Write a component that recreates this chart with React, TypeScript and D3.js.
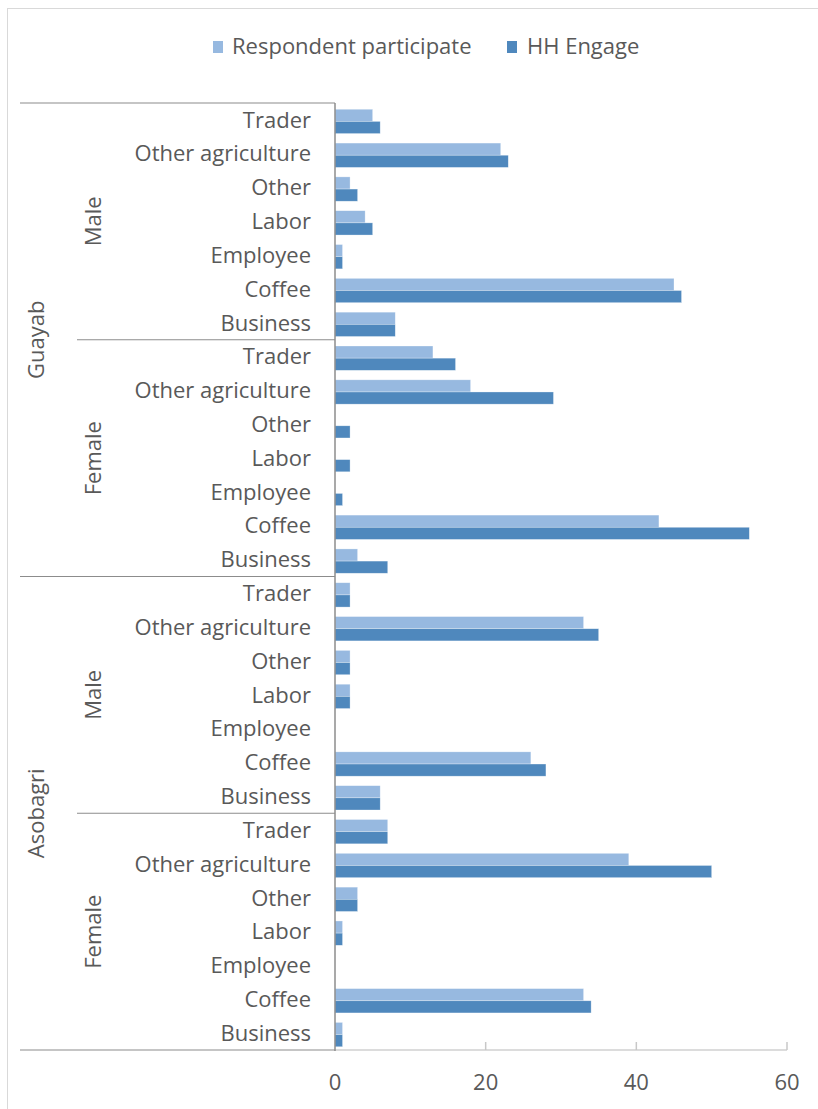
import * as d3 from "d3";

// data
const organisations = ["Guayab", "Asobagri"];
const sexes = ["Male", "Female"];
const activities = ["Trader", "Other agriculture", "Other", "Labor", "Employee", "Coffee", "Business"];
const seriesNames = ["Respondent participate", "HH Engage"];

// one array per org/sex block, same order as activities
const respondentParticipate = [
  [5, 22, 2, 4, 1, 45, 8], // Guayab Male
  [13, 18, 0, 0, 0, 43, 3], // Guayab Female
  [2, 33, 2, 2, 0, 26, 6], // Asobagri Male
  [7, 39, 3, 1, 0, 33, 1], // Asobagri Female
];
const hhEngage = [
  [6, 23, 3, 5, 1, 46, 8],
  [16, 29, 2, 2, 1, 55, 7],
  [2, 35, 2, 2, 0, 28, 6],
  [7, 50, 3, 1, 0, 34, 1],
];
const xTicks = [0, 20, 40, 60];

const colors = ["#97b9e0", "#4f88bd"];

export default function App() {
  const width = 818;
  const height = 1109;
  const left = 335;
  const right = 787;
  const top = 103;
  const bottom = 1050;
  const font = "'Open Sans', sans-serif";
  const textColor = "#595959";
  const fs = 22;

  const rows = [];
  organisations.forEach((org, oi) => {
    sexes.forEach((sex, si) => {
      const b = oi * sexes.length + si;
      activities.forEach((act, ai) => {
        rows.push({
          key: `${org}-${sex}-${act}`,
          org,
          sex,
          act,
          values: [respondentParticipate[b][ai], hhEngage[b][ai]],
        });
      });
    });
  });

  const x = d3.scaleLinear().domain([0, 60]).range([left, right]);
  const y = d3.scaleBand().domain(rows.map((r) => r.key)).range([top, bottom]);
  const inner = d3
    .scaleBand()
    .domain(seriesNames)
    .range([1.5, y.bandwidth() + 1.5])
    .paddingOuter(0.39);

  const blockH = y.step() * activities.length;
  const sepColor = "#8c8c8c";

  return (
    <svg
      width={width}
      height={height}
      style={{ position: "absolute", left: 0, top: 0, background: "#fff" }}
      fontFamily={font}
    >
      <rect x={7.5} y={8.5} width={830} height={1120} fill="#fff" stroke="#d9d9d9" />

      {/* legend */}
      <g fontSize={fs} fill={textColor}>
        <rect x={213} y={41} width={10} height={12} fill={colors[0]} />
        <text x={232} y={54}>{seriesNames[0]}</text>
        <rect x={507} y={41} width={10} height={12} fill={colors[1]} />
        <text x={527} y={54}>{seriesNames[1]}</text>
      </g>

      {/* bars */}
      {rows.map((r) => (
        <g key={r.key} transform={`translate(0,${y(r.key)})`}>
          {r.values.map((v, i) => (
            <rect
              key={i}
              x={x(0)}
              y={inner(seriesNames[i])}
              width={x(v) - x(0)}
              height={inner.bandwidth()}
              fill={colors[i]}
              stroke="rgba(255,255,255,0.5)"
              strokeWidth={0.6}
            />
          ))}
        </g>
      ))}

      {/* value axis */}
      <line x1={left} x2={right} y1={bottom} y2={bottom} stroke="#d0d0d0" strokeWidth={1.5} />
      {xTicks.map((t) => (
        <g key={t}>
          {t > 0 && <line x1={x(t)} x2={x(t)} y1={bottom - 8} y2={bottom} stroke="#c8c8c8" strokeWidth={1.5} />}
          <text x={x(t)} y={1090} textAnchor="middle" fontSize={fs} fill={textColor}>
            {t}
          </text>
        </g>
      ))}

      {/* category axis */}
      <line x1={left} x2={left} y1={top} y2={bottom + 1} stroke={sepColor} strokeWidth={1.5} />
      {rows.map((r) => (
        <text
          key={r.key}
          x={311}
          y={y(r.key) + y.bandwidth() / 2}
          dy="0.35em"
          textAnchor="end"
          fontSize={fs}
          fill={textColor}
        >
          {r.act}
        </text>
      ))}

      {organisations.map((org, oi) => {
        const y0 = top + oi * blockH * sexes.length;
        return (
          <g key={org}>
            <line x1={20} x2={left} y1={y0} y2={y0} stroke={sepColor} strokeWidth={1.2} />
            <text
              transform={`translate(44,${y0 + blockH})rotate(-90)`}
              textAnchor="middle"
              fontSize={fs}
              fill={textColor}
            >
              {org}
            </text>
            {sexes.map((sex, si) => {
              const ys = y0 + si * blockH;
              return (
                <g key={sex}>
                  {si > 0 && <line x1={77} x2={left} y1={ys} y2={ys} stroke={sepColor} strokeWidth={1.2} />}
                  <text
                    transform={`translate(101,${ys + blockH / 2})rotate(-90)`}
                    textAnchor="middle"
                    fontSize={fs}
                    fill={textColor}
                  >
                    {sex}
                  </text>
                </g>
              );
            })}
          </g>
        );
      })}
      <line x1={20} x2={left} y1={bottom} y2={bottom} stroke={sepColor} strokeWidth={1.2} />
    </svg>
  );
}
